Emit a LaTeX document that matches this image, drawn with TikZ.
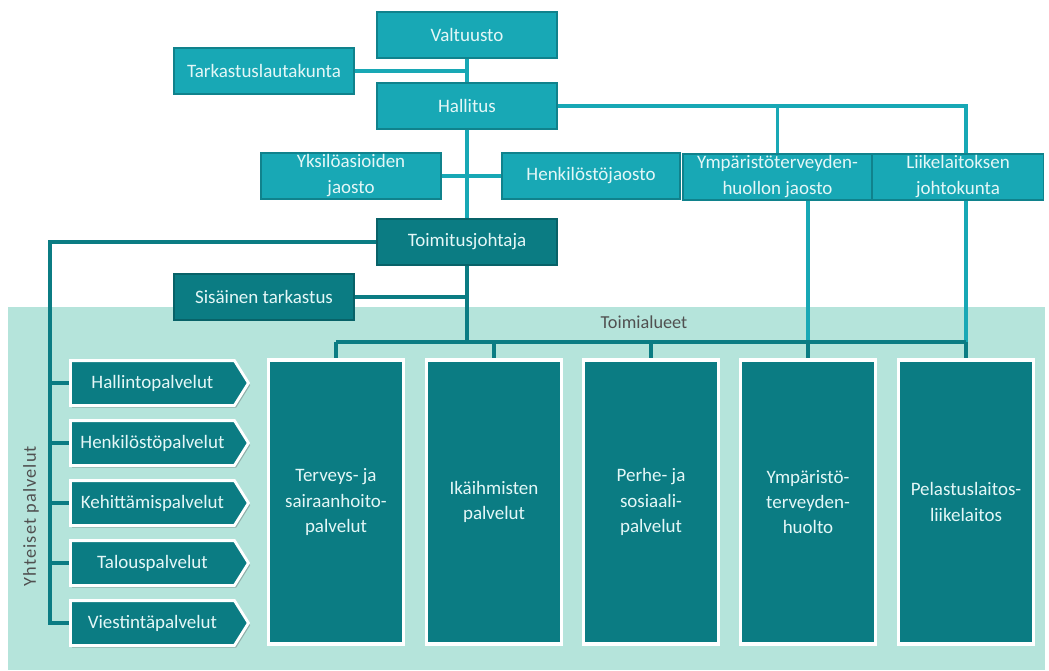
\documentclass[tikz,border=0pt]{standalone}
\usepackage{fontspec}
\setmainfont{Carlito}
\usetikzlibrary{positioning,calc,shapes.symbols,shadows}
\definecolor{tealL}{RGB}{24,168,181}
\definecolor{tealLd}{RGB}{16,130,140}
\definecolor{tealD}{RGB}{11,124,131}
\definecolor{tealDd}{RGB}{8,98,104}
\definecolor{bandbg}{RGB}{181,228,219}
\definecolor{boxtxt}{RGB}{228,247,247}
\definecolor{lbltxt}{RGB}{80,80,80}
\tikzset{
  orgbox/.style={draw=tealLd,fill=tealL,line width=1pt,text=boxtxt,align=center,
    minimum width=4.5cm,minimum height=1.15cm,inner sep=1pt,
    font=\fontsize{13.5}{18.5}\selectfont},
  orgboxd/.style={orgbox,draw=tealDd,fill=tealD},
  areabox/.style={draw=white,fill=tealD,line width=2.4pt,text=boxtxt,align=center,
    minimum width=3.38cm,minimum height=7.1cm,inner sep=1pt,
    font=\fontsize{13.5}{18}\selectfont,
    drop shadow={shadow xshift=1.2pt,shadow yshift=-1.6pt,opacity=0.35,fill=black!70}},
  svcbox/.style={signal,signal to=east,signal pointer angle=116,draw=white,fill=tealD,
    line width=2pt,text=boxtxt,minimum width=4.45cm,minimum height=1.12cm,inner sep=1pt,
    font=\fontsize{13.5}{18}\selectfont,
    drop shadow={shadow xshift=1.2pt,shadow yshift=-1.6pt,opacity=0.35,fill=black!70}},
  lnL/.style={tealL,line width=2.6pt},
  lnD/.style={tealD,line width=2.6pt},
  grplbl/.style={text=lbltxt,font=\fontsize{13}{15}\selectfont},
}
\begin{document}
\begin{tikzpicture}[x=0.025cm,y=-0.025cm]
  \useasboundingbox (0,0) rectangle (1049,670);
  % ---- background band ----
  \fill[bandbg] (8,307) rectangle (1045,670);
  \node[grplbl] (toimal) at (644,322) {Toimialueet};
  \node[grplbl,rotate=90] (yhtpal) at (31,516)
    {\addfontfeature{LetterSpace=6}Yhteiset palvelut};
  % ---- governing bodies ----
  \node[orgbox] (valt) at (467,35) {Valtuusto};
  \node[orgbox] (tarkl) at (264,71) {Tarkastuslautakunta};
  \node[orgbox] (hall) at (467,106) {Hallitus};
  \node[orgbox] (yksi) at (351,176) {Yksilöasioiden\\jaosto};
  \node[orgbox,minimum width=4.45cm] (henk) at (591,176) {Henkilöstöjaosto};
  \node[orgbox,minimum width=4.72cm] (ymp) at (777.5,177) {Ympäristöterveyden-\\huollon jaosto};
  \node[orgbox,minimum width=4.26cm] (liike) at (958,177) {Liikelaitoksen\\johtokunta};
  \node[orgboxd] (toim) at (467,242) {Toimitusjohtaja};
  \node[orgboxd] (sis) at (264,297) {Sisäinen tarkastus};
  % ---- service areas ----
  \foreach \x/\t [count=\i] in {336/{Terveys- ja\\sairaanhoito-\\palvelut},
      494/{Ikäihmisten\\palvelut},651/{Perhe- ja\\sosiaali-\\palvelut},
      808/{Ympäristö-\\terveyden-\\huolto},966/{Pelastuslaitos-\\liikelaitos}}
    \node[areabox] (area\i) at (\x,502) {\t};
  % ---- common services ----
  \foreach \t [count=\i] in {Hallintopalvelut,Henkilöstöpalvelut,Kehittämispalvelut,
      Talouspalvelut,Viestintäpalvelut}
    \node[svcbox,anchor=west] (svc\i) at (69,323+\i*60) {\t};
  % ---- light connectors ----
  \draw[lnL] (valt) -- (hall);
  \draw[lnL] (tarkl.east) -- (tarkl.east -| valt.south);
  \draw[lnL] (hall) -- (toim);
  \draw[lnL] (yksi.east) -- (henk.west);
  \draw[lnL] (hall.east) -- (hall.east -| area5.north) -- (area5.north |- liike.north);
  \draw[lnL] (ymp.north |- hall.east) -- (ymp.north);
  \coordinate (tjoin) at (467,342);
  \draw[lnL] (area4.north |- ymp.south) -- (area4.north |- tjoin);
  \draw[lnL] (area5.north |- liike.south) -- (area5.north |- tjoin);
  % ---- dark connectors ----
  \draw[lnD] (sis.east) -- (sis.east -| toim.south);
  \draw[lnD] (toim.south) -- (tjoin);
  \draw[lnD] (area1.north |- tjoin) -- (area5.north |- tjoin);
  \foreach \i in {1,...,5} \draw[lnD] (area\i.north |- tjoin) -- (area\i.north);
  \coordinate (ysp) at (50,242);
  \draw[lnD] (toim.west) -- (ysp) |- (svc5.west);
  \foreach \i in {1,...,4} \draw[lnD] (svc\i.west -| ysp) -- (svc\i.west);
\end{tikzpicture}
\end{document}
